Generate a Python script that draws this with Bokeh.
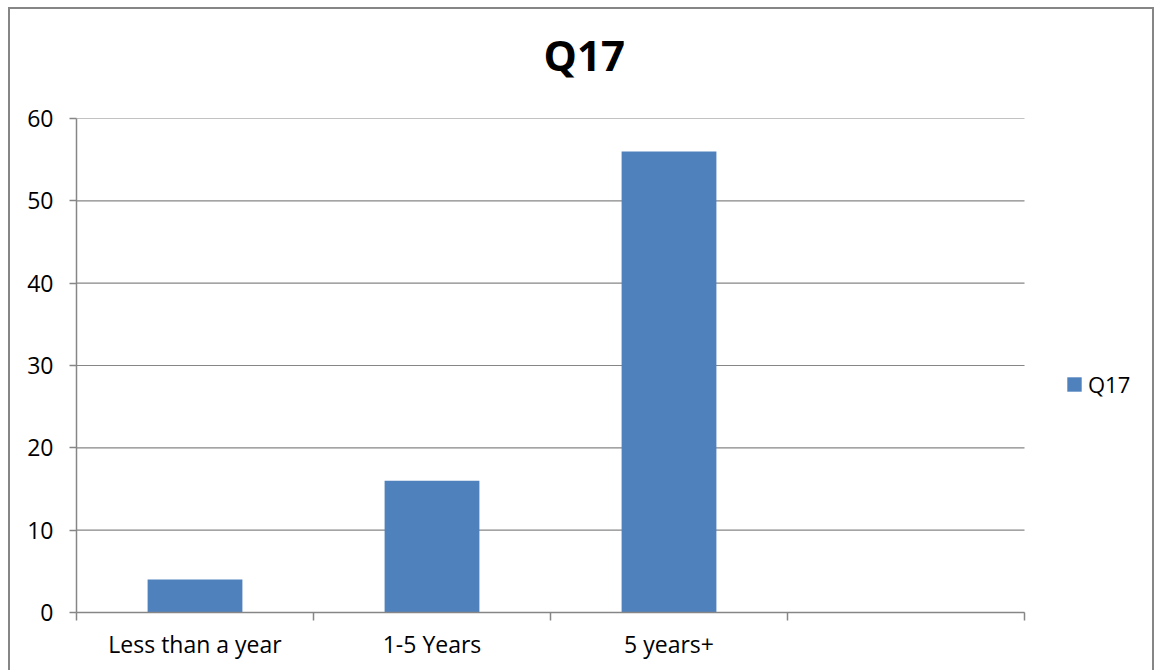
from bokeh.plotting import figure
from bokeh.models import (ColumnDataSource, FixedTicker, Legend, LegendItem,
                          Range1d, Title)
from bokeh.embed import file_html
from bokeh.resources import INLINE

categories = ["Less than a year", "1-5 Years", "5 years+", ""]
values = [4, 16, 56]
series_name = "Q17"
chart_title = "Q17"
y_ticks = [0, 10, 20, 30, 40, 50, 60]

FONT = "Open Sans"
GRAY = "#868686"
BAR = "#4F81BD"

OX, OY, BW = 8, 7, 2          # outer chart border (CSS) position
W, H = 1146, 672 - OY - BW
PLOT_L, PLOT_R, PLOT_T, PLOT_B = 76, 1024, 118, 612   # plot area in page px
FRAME_R = 1150                # frame extends right to hold the legend

n = len(categories)
cat_px = (PLOT_R - PLOT_L) / n
x_max = (FRAME_R - PLOT_L) / cat_px

centers = [i + 0.5 for i in range(len(values))]
src = ColumnDataSource(dict(x=centers, top=values))

p = figure(width=W, height=H, output_backend="svg", toolbar_location=None,
           x_range=Range1d(0, x_max), y_range=Range1d(0, 60),
           min_border_left=PLOT_L - OX - BW, min_border_right=W - (FRAME_R - OX - BW),
           min_border_top=PLOT_T - OY - BW, min_border_bottom=H - (PLOT_B - OY - BW),
           styles={"margin-left": f"{OX}px", "margin-top": f"{OY}px",
                   "border-left": f"{BW}px solid {GRAY}",
                   "border-right": f"{BW}px solid {GRAY}",
                   "border-top": f"{BW}px solid {GRAY}"})
p.outline_line_color = None
p.background_fill_color = "white"
p.border_fill_color = "white"

# horizontal gridlines over the category area only
p.segment(x0=[0] * len(y_ticks), x1=[n] * len(y_ticks), y0=y_ticks, y1=y_ticks,
          line_color=GRAY, line_width=1.2)

r = p.vbar(x="x", top="top", width=0.4, source=src, fill_color=BAR, line_color=None)

xt = FixedTicker(ticks=[i + 0.5 for i in range(n)],
                 minor_ticks=list(range(n + 1)))
p.xaxis.ticker = xt
p.xaxis.bounds = (0, n)
p.xaxis.major_label_overrides = {i + 0.5: c for i, c in enumerate(categories)}
p.xaxis.major_tick_out = 0
p.xaxis.major_tick_in = 0
p.xaxis.minor_tick_out = 8
p.xaxis.minor_tick_in = 0
p.xaxis.minor_tick_line_color = GRAY
p.xaxis.minor_tick_line_width = 1.5
p.xaxis.axis_line_color = GRAY
p.xaxis.axis_line_width = 1.5
p.xaxis.major_label_text_font = FONT
p.xaxis.major_label_text_font_size = "23px"
p.xaxis.major_label_text_color = "black"
p.xaxis.major_label_standoff = 7

p.yaxis.ticker = FixedTicker(ticks=y_ticks, minor_ticks=[])
p.yaxis.major_tick_out = 7
p.yaxis.major_tick_in = 0
p.yaxis.major_tick_line_color = GRAY
p.yaxis.major_tick_line_width = 1.5
p.yaxis.axis_line_color = GRAY
p.yaxis.axis_line_width = 1.5
p.yaxis.major_label_text_font = FONT
p.yaxis.major_label_text_font_size = "23px"
p.yaxis.major_label_text_color = "black"
p.yaxis.major_label_standoff = 16

p.xgrid.visible = False
p.ygrid.visible = False

t = Title(text=chart_title, align="left", offset=543 - PLOT_L, text_font=FONT,
          text_font_size="42px", text_font_style="bold", text_color="black",
          vertical_align="bottom", padding=(0, 0, 0, 36), standoff=0)
p.add_layout(t, "above")

legend = Legend(items=[LegendItem(label=series_name, renderers=[r])],
                location=(1065 - PLOT_L, PLOT_B - 399), glyph_width=18, glyph_height=18,
                label_text_font=FONT, label_text_font_size="22px",
                label_text_color="black",
                label_standoff=5, padding=0, margin=0, border_line_color=None,
                background_fill_alpha=0)
p.add_layout(legend, "center")

open("out.html", "w").write(file_html(p, INLINE))
